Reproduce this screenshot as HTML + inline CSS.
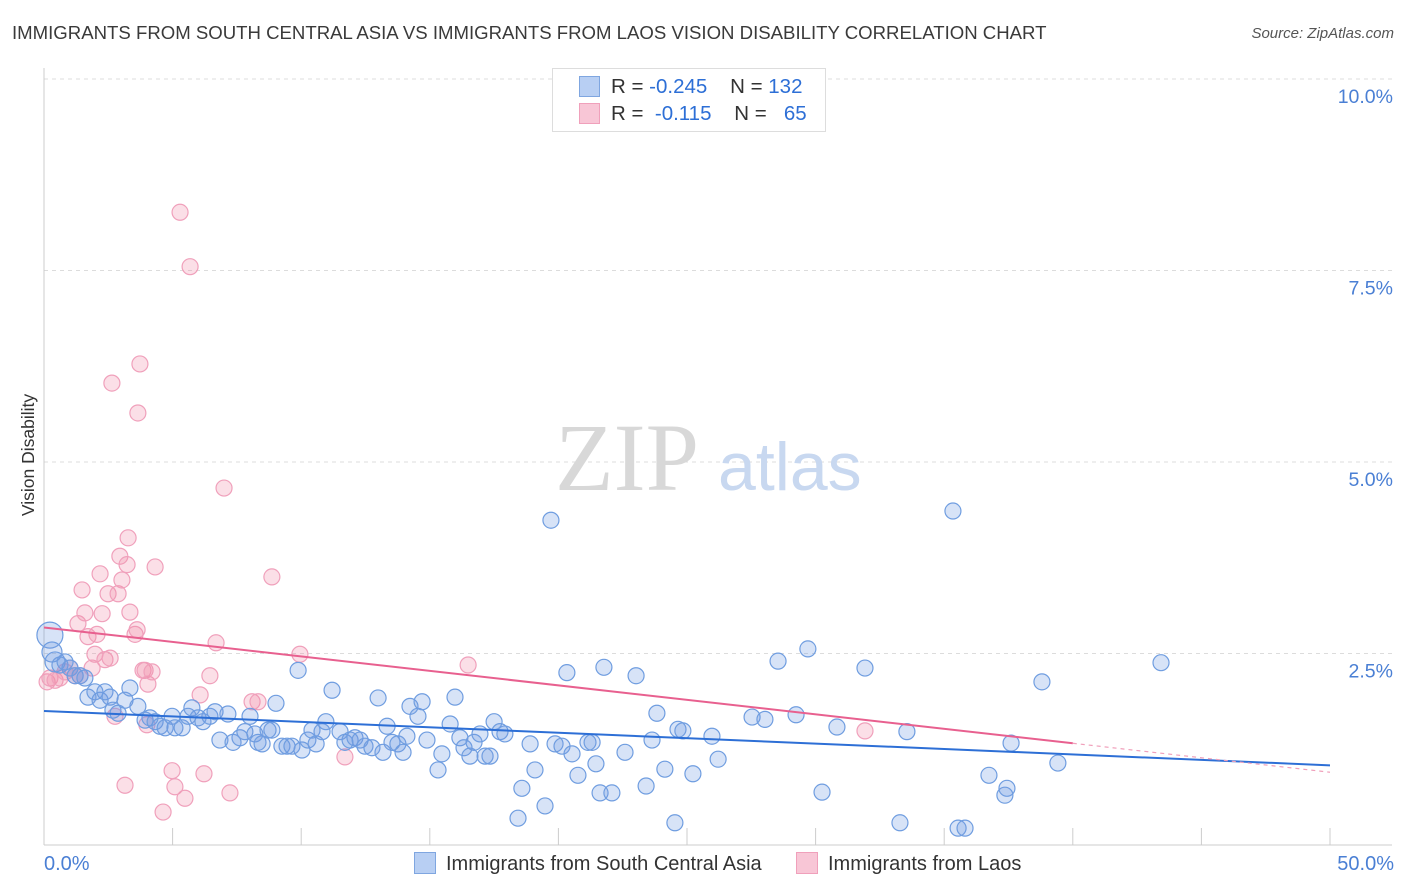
<!DOCTYPE html>
<html><head><meta charset="utf-8">
<style>
body{margin:0;background:#fff;font-family:"Liberation Sans",sans-serif;}
#wrap{position:relative;width:1406px;height:892px;overflow:hidden;}
.t{position:absolute;white-space:nowrap;}
</style></head>
<body>
<div id="wrap">
<div class="t" style="left:12px;top:22px;font-size:18.6px;color:#3a3a3a;">IMMIGRANTS FROM SOUTH CENTRAL ASIA VS IMMIGRANTS FROM LAOS VISION DISABILITY CORRELATION CHART</div>
<div class="t" style="right:12px;top:25px;font-size:15px;color:#555;font-style:italic;">Source: ZipAtlas.com</div>
<svg id="svg" width="1406" height="892" style="position:absolute;left:0;top:0"></svg>
</div>
<script>
const blueX=[0.23,0.31,0.43,0.62,0.82,1.01,1.21,1.40,1.59,1.71,1.98,2.18,2.37,2.57,2.68,2.88,3.15,3.34,3.65,3.93,4.12,4.32,4.51,4.71,4.98,5.09,5.37,5.60,5.75,5.99,6.18,6.45,6.65,6.84,7.15,7.35,7.62,7.81,8.01,8.20,8.32,8.48,8.71,8.86,9.02,9.25,9.45,9.64,9.88,10.03,10.26,10.42,10.58,10.81,10.96,11.20,11.51,11.70,11.90,12.09,12.29,12.48,12.75,12.99,13.18,13.34,13.53,13.76,13.96,14.11,14.23,14.54,14.70,14.89,15.32,15.47,15.79,15.98,16.17,16.33,16.56,16.72,16.95,17.15,17.34,17.50,17.73,17.92,18.43,18.58,18.90,19.09,19.48,19.71,19.87,20.14,20.33,20.53,20.76,21.15,21.31,21.46,21.62,21.77,22.08,22.59,23.02,23.41,23.64,23.83,24.14,24.53,24.65,24.84,25.23,25.97,26.21,27.53,28.03,28.54,29.24,29.70,30.25,30.83,31.92,33.28,33.55,35.34,35.54,35.81,36.74,37.36,37.44,37.60,38.80,39.42,43.43];
const blueY=[2.74,2.52,2.39,2.35,2.39,2.31,2.21,2.21,2.18,1.93,2.00,1.89,2.00,1.93,1.76,1.72,1.89,2.05,1.81,1.63,1.66,1.61,1.55,1.53,1.68,1.53,1.53,1.68,1.79,1.66,1.61,1.68,1.74,1.37,1.71,1.34,1.40,1.48,1.68,1.45,1.34,1.32,1.50,1.50,1.85,1.29,1.29,1.29,2.28,1.24,1.37,1.50,1.32,1.48,1.61,2.02,1.48,1.34,1.37,1.40,1.37,1.29,1.27,1.92,1.21,1.55,1.34,1.32,1.21,1.42,1.81,1.68,1.87,1.37,0.98,1.19,1.58,1.93,1.40,1.27,1.16,1.34,1.45,1.16,1.16,1.61,1.48,1.45,0.35,0.74,1.32,0.98,0.51,4.24,1.32,1.29,2.25,1.19,0.91,1.34,1.34,1.06,0.68,2.32,0.68,1.21,2.21,0.77,1.37,1.72,0.99,0.29,1.51,1.49,0.93,1.42,1.12,1.67,1.64,2.40,1.70,2.56,0.69,1.54,2.31,0.29,1.48,4.36,0.22,0.22,0.91,0.65,0.74,1.33,2.13,1.07,2.38];
const pinkX=[0.12,0.23,0.43,0.62,0.82,1.01,1.21,1.40,1.48,1.32,1.59,1.71,1.87,1.98,2.06,2.18,2.26,2.37,2.49,2.57,2.64,2.76,2.88,2.95,3.03,3.15,3.23,3.27,3.34,3.54,3.62,3.65,3.73,3.85,3.93,4.00,4.04,4.20,4.32,4.63,4.98,5.09,5.29,5.48,5.68,6.07,6.22,6.45,6.69,7.00,7.23,8.09,8.32,8.86,9.95,11.70,16.49,31.92];
const pinkY=[2.13,2.18,2.15,2.18,2.26,2.31,2.21,2.21,3.33,2.89,3.03,2.72,2.31,2.49,2.75,3.54,3.02,2.42,3.28,2.44,6.03,1.68,3.28,3.77,3.46,0.78,3.66,4.01,3.04,2.75,2.81,5.64,6.28,2.28,2.28,1.57,2.10,2.26,3.63,0.43,0.97,0.76,8.26,0.61,7.55,1.96,0.93,2.21,2.64,4.66,0.68,1.87,1.87,3.50,2.49,1.15,2.35,1.49];
const blueTrend=[1.75,1.04];
const pinkTrend=[2.84,0.95];
const yTicks=[2.5,5.0,7.5,10.0];
const yTickLabels=["2.5%","5.0%","7.5%","10.0%"];
const xTicks=[0,5,10,15,20,25,30,35,40,45,50];

const NS="http://www.w3.org/2000/svg";
const svg=document.getElementById('svg');
const X=v=>44+v/50*1286;
const Y=v=>845-v*76.6;
function mk(t,a){const e=document.createElementNS(NS,t);for(const k in a)e.setAttribute(k,a[k]);svg.appendChild(e);return e;}

yTicks.forEach((v,i)=>{
  const g=mk('line',{x1:44,x2:1392,y1:Y(v),y2:Y(v),stroke:'#dcdcdc','stroke-dasharray':'4,4'});
  
  
  const t=mk('text',{x:1393,y:Y(v)+24,'text-anchor':'end','font-size':19.5,fill:'#4a7fd4','font-family':'Liberation Sans'});
  t.textContent=yTickLabels[i];
  
  
});
const ax=mk('line',{x1:44,x2:44,y1:68,y2:845,stroke:'#ccc'});


const bx=mk('line',{x1:44,x2:1392,y1:845,y2:845,stroke:'#ccc'});


xTicks.forEach(v=>{
  const l=mk('line',{x1:X(v),x2:X(v),y1:828,y2:845,stroke:'#ccc'});
  
  
});
const xl0=mk('text',{x:44,y:870,'font-size':20,fill:'#4a7fd4','font-family':'Liberation Sans'});xl0.textContent='0.0%';


const xl1=mk('text',{x:1394,y:870,'text-anchor':'end','font-size':20,fill:'#4a7fd4','font-family':'Liberation Sans'});xl1.textContent='50.0%';


const yt=mk('text',{x:34,y:455,'text-anchor':'middle','font-size':17.5,fill:'#333',transform:'rotate(-90 34 455)','font-family':'Liberation Sans'});yt.textContent='Vision Disability';


const w1=mk('text',{x:555,y:490,'font-size':96,fill:'#d8d8d8','font-family':'Liberation Serif'});w1.textContent='ZIP';


const w2=mk('text',{x:718,y:490,'font-size':68,fill:'#c8d8f0','font-family':'Liberation Sans'});w2.textContent='atlas';



pinkX.forEach((x,i)=>{
  const c=mk('circle',{cx:X(x),cy:Y(pinkY[i]),r:8,fill:'rgba(240,140,170,0.28)',stroke:'#f0a0bb','stroke-width':1.2});
  
  
});
blueX.forEach((x,i)=>{
  const c=mk('circle',{cx:X(x),cy:Y(blueY[i]),r:i===0?13:(i<3?10:8),fill:'rgba(110,155,225,0.28)',stroke:'#6f9de0','stroke-width':1.2});
  
  
});
const bl=mk('line',{x1:X(0),y1:Y(blueTrend[0]),x2:X(50),y2:Y(blueTrend[1]),stroke:'#2d6fd6','stroke-width':2});


const pAt=x=>pinkTrend[0]+(pinkTrend[1]-pinkTrend[0])*x/50;
const pl=mk('line',{x1:X(0),y1:Y(pAt(0)),x2:X(40),y2:Y(pAt(40)),stroke:'#e8608f','stroke-width':2});


const pd=mk('line',{x1:X(40),y1:Y(pAt(40)),x2:X(50),y2:Y(pAt(50)),stroke:'#f0a0bb','stroke-width':1.2,'stroke-dasharray':'4,4'});


</script>
<div class="t" style="left:552px;top:68px;width:272px;height:62px;border:1px solid #ddd;background:#fff;font-size:20.5px;color:#333;">
  <div style="position:absolute;left:26px;top:7px;width:19px;height:19px;background:#b8cff3;border:1px solid #7fa6e0;"></div>
  <div style="position:absolute;left:58px;top:6px;">R = <span style="color:#2d6fd6">-0.245</span>&nbsp;&nbsp;&nbsp;&nbsp;N = <span style="color:#2d6fd6">132</span></div>
  <div style="position:absolute;left:26px;top:34px;width:19px;height:19px;background:#f8c6d6;border:1px solid #f0a0bb;"></div>
  <div style="position:absolute;left:58px;top:33px;">R = &nbsp;<span style="color:#2d6fd6">-0.115</span>&nbsp;&nbsp;&nbsp;&nbsp;N = &nbsp;&nbsp;<span style="color:#2d6fd6">65</span></div>
</div>
<div class="t" style="left:414px;top:852px;font-size:20px;color:#333;">
  <span style="display:inline-block;width:20px;height:20px;background:#b8cff3;border:1px solid #7fa6e0;vertical-align:-4px;margin-right:10px;"></span>Immigrants from South Central Asia</div>
<div class="t" style="left:796px;top:852px;font-size:20px;color:#333;">
  <span style="display:inline-block;width:20px;height:20px;background:#f8c6d6;border:1px solid #f0a0bb;vertical-align:-4px;margin-right:10px;"></span>Immigrants from Laos</div>
</body></html>
